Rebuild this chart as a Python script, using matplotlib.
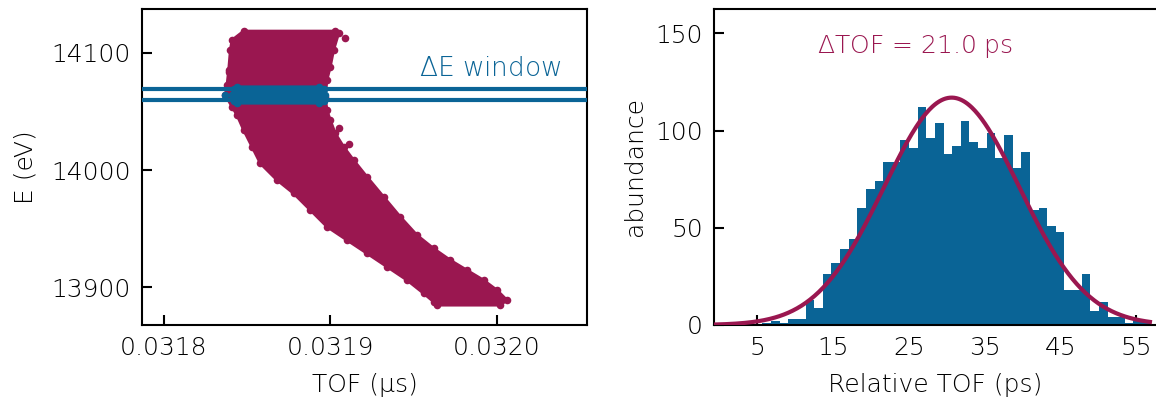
import numpy as np
import matplotlib
matplotlib.use('Agg')
import matplotlib.pyplot as plt

# left panel: outline of the simulated (TOF, E) point cloud
cloud_tof = [0.031848, 0.031841, 0.031840, 0.031839, 0.031838, 0.031837, 0.031841,
             0.031844, 0.031848, 0.031853, 0.031858, 0.031868, 0.031878, 0.031888,
             0.031898, 0.031910, 0.031922, 0.031934, 0.031946, 0.031956, 0.031962,
             0.031964, 0.032002, 0.032006, 0.032000, 0.031992, 0.031982, 0.031972,
             0.031962, 0.031952, 0.031942, 0.031932, 0.031922, 0.031914, 0.031908,
             0.031903, 0.031900, 0.031898, 0.031897, 0.031898, 0.031900, 0.031902,
             0.031905, 0.031903]
cloud_e = [14118.5, 14110.8, 14102.3, 14085.3, 14072.5, 14063.9, 14054.0,
           14046.9, 14034.1, 14019.9, 14005.7, 13991.5, 13980.1, 13965.9,
           13951.7, 13940.3, 13929.0, 13917.6, 13906.2, 13894.9, 13887.7,
           13884.9, 13884.9, 13889.2, 13897.7, 13906.2, 13914.7, 13923.3,
           13933.2, 13944.6, 13960.2, 13977.2, 13994.3, 14008.5, 14019.9,
           14031.3, 14042.6, 14051.2, 14062.5, 14076.7, 14088.1, 14102.3,
           14116.5, 14118.5]
stray_tof = [0.031909, 0.031839, 0.031905, 0.031911]
stray_e = [14112.8, 14083.8, 14035.8, 14022.2]

# points selected by the energy window
window_tof = [0.031844, 0.031893, 0.031896, 0.031897, 0.031896, 0.031893,
              0.031844, 0.031842, 0.031841, 0.031842]
window_e = [14057, 14057, 14059, 14064, 14069, 14071, 14071, 14069, 14064, 14059]
window_stray_tof = [0.031837]
window_stray_e = [14064]
window_lines = [14069, 14060]

# right panel: histogram of relative TOF inside the window
bin_start = 0.0
bin_width = 1.138
counts = [0, 0, 0, 0, 0, 1, 2, 1, 3, 3,
          13, 9, 26, 32, 39, 44, 60, 70, 74, 84,
          84, 95, 91, 112, 96, 104, 88, 92, 105, 94,
          91, 99, 86, 98, 81, 89, 59, 60, 51, 48,
          18, 18, 26, 7, 12, 4, 4, 1, 2, 2]
fit_amp = 117.0
fit_center = 30.65
fit_fwhm = 21.0

crimson = '#9a1750'
blue = '#0a6496'

plt.rcParams['font.family'] = ['DejaVu Sans']
plt.rcParams['font.weight'] = 'light'
plt.rcParams['axes.labelweight'] = 'light'
plt.rcParams['font.size'] = 18

fig = plt.figure(figsize=(11.56, 4.0), dpi=100)
ax1 = fig.add_axes([0.1228, 0.1875, 0.385, 0.79])
ax2 = fig.add_axes([0.6176, 0.1875, 0.3824, 0.79])

# --- left: E vs TOF ---
ax1.fill(cloud_tof, cloud_e, color=crimson, lw=2, joinstyle='round', zorder=2)
ax1.scatter(cloud_tof, cloud_e, s=30, color=crimson, lw=0, zorder=2)
ax1.scatter(stray_tof, stray_e, s=30, color=crimson, lw=0, zorder=2)
ax1.fill(window_tof, window_e, color=blue, lw=2, joinstyle='round', zorder=3)
ax1.scatter(window_tof, window_e, s=30, color=blue, lw=0, zorder=3)
ax1.scatter(window_stray_tof, window_stray_e, s=30, color=blue, lw=0, zorder=3)
for e in window_lines:
    ax1.axhline(e, color=blue, lw=3, zorder=4)
ax1.text(0.032039, 14087, r'$\Delta$E window', color=blue, ha='right', va='center',
         fontsize=19)

ax1.set_xlim(0.031787, 0.032054)
ax1.set_ylim(13868, 14137.3)
ax1.set_xticks([0.0318, 0.0319, 0.0320])
ax1.set_xticklabels(['0.0318', '0.0319', '0.0320'])
ax1.set_yticks([13900, 14000, 14100])
ax1.set_xlabel('TOF (µs)', labelpad=9)
ax1.set_ylabel('E (eV)', labelpad=10)

# --- right: histogram + gaussian fit ---
edges = bin_start + bin_width * np.arange(len(counts))
ax2.bar(edges, counts, width=bin_width, align='edge', color=blue, lw=0, zorder=2)
sigma = fit_fwhm / (2 * np.sqrt(2 * np.log(2)))
xs = np.linspace(-0.7, 56.8, 400)
ax2.plot(xs, fit_amp * np.exp(-(xs - fit_center) ** 2 / (2 * sigma ** 2)),
         color=crimson, lw=3, zorder=3)
ax2.text(25.8, 143.5, r'$\Delta$TOF = %.1f ps' % fit_fwhm, color=crimson,
         ha='center', va='center')

ax2.set_xlim(-0.7, 57.6)
ax2.set_ylim(0, 162.6)
ax2.set_xticks([5, 15, 25, 35, 45, 55])
ax2.set_yticks([0, 50, 100, 150])
ax2.set_xlabel('Relative TOF (ps)', labelpad=9)
ax2.set_ylabel('abundance', labelpad=6)
ax2.spines['right'].set_visible(False)

for ax in (ax1, ax2):
    for sp in ax.spines.values():
        sp.set_linewidth(1.5)
    ax.tick_params(direction='in', length=7, width=1.5, pad=8, labelsize=18)

fig.savefig('out.png', dpi=100)
